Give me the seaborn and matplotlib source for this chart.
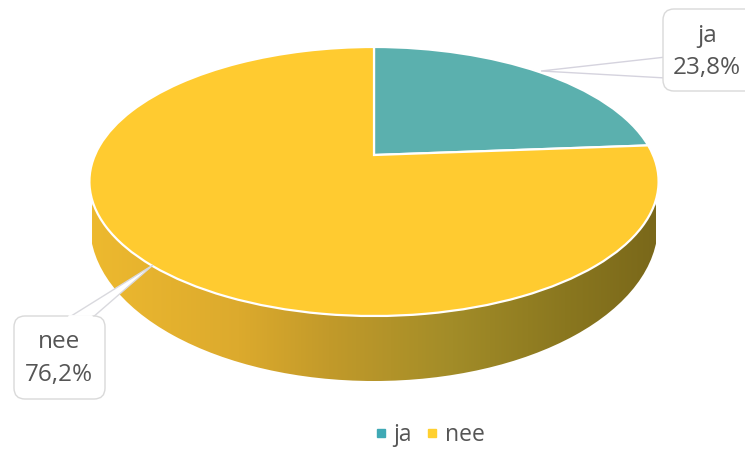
# 3D looking pie, ja / nee
import numpy as np
import matplotlib
matplotlib.use('Agg')
import matplotlib.pyplot as plt
import seaborn as sns
from matplotlib.colors import LinearSegmentedColormap
from matplotlib.lines import Line2D
from matplotlib.patches import Ellipse, FancyBboxPatch, Polygon
from matplotlib.transforms import Transform

labels = ['ja', 'nee']
shares = [23.8, 76.2]
share_text = ['23,8%', '76,2%']
colors = ['#5BB0AE', '#FFCB30']
legend_colors = ['#3FA9B5', '#FFD02F']

sns.set_theme(style='white')
plt.rcParams['font.family'] = ['Open Sans', 'DejaVu Sans']
text_color = '#555555'


# tilts the flat pie, the centre sits above the middle of the ellipse
class Tilt(Transform):
    input_dims = 2
    output_dims = 2

    def transform_non_affine(self, values):
        u, v = values[:, 0], values[:, 1]
        w = 1 + 0.197 * v
        return np.column_stack([374 + 279 * u / w, 155 - 129.3 * v / w])


fig = plt.figure(figsize=(7.45, 4.5), dpi=100)
ax = fig.add_axes([0, 0, 1, 1])

wedges, _ = ax.pie(shares, colors=colors, startangle=90, counterclock=False,
                   wedgeprops={'edgecolor': 'white', 'linewidth': 1.6})
for w in wedges:
    w.set_transform(Tilt() + ax.transData)
    w.set_zorder(3)

# side of the pie, dark towards the right
side_cmap = LinearSegmentedColormap.from_list('side', [
    (0.00, '#EDB92F'), (0.26, '#DCAA2D'), (0.42, '#C29A2A'),
    (0.64, '#A28C28'), (0.84, '#8A771F'), (1.00, '#7A681A')])
img = ax.imshow(np.linspace(0, 1, 256)[None, :], cmap=side_cmap, aspect='auto',
                extent=(92, 656, 385, 190), zorder=1)
rim = Ellipse((374, 225), 568, 312, transform=ax.transData, facecolor='none', edgecolor='none')
ax.add_patch(rim)
img.set_clip_path(rim)

ax.set_xlim(0, 745)
ax.set_ylim(450, 0)
ax.set_aspect('auto')
ax.axis('off')

# callouts
box_style = {'boxstyle': 'round,pad=0,rounding_size=11', 'facecolor': 'white',
             'edgecolor': '#D9D9D9', 'linewidth': 1.0, 'zorder': 5}
ax.add_patch(Polygon([(541, 71), (666, 57), (666, 78)], closed=True, facecolor='white',
                     edgecolor='#D5D3DE', linewidth=1.0, zorder=4))
ax.add_patch(Polygon([(153, 265), (68, 318), (92, 318)], closed=True, facecolor='white',
                     edgecolor='#D9D9DE', linewidth=1.0, zorder=4))
ax.add_patch(FancyBboxPatch((663, 9), 100, 82, **box_style))
ax.add_patch(FancyBboxPatch((14, 316), 91, 83, **box_style))
# hide the box border where the tail joins
ax.plot([665, 665], [58, 77], color='white', lw=2, zorder=6)
ax.plot([69, 91], [316, 316], color='white', lw=2, zorder=6)

ax.text(707, 36, labels[0], ha='center', va='center', fontsize=17.5, color=text_color, zorder=7)
ax.text(707, 68, share_text[0], ha='center', va='center', fontsize=17.5, color=text_color, zorder=7)
ax.text(59, 342, labels[1], ha='center', va='center', fontsize=17.5, color=text_color, zorder=7)
ax.text(59, 375, share_text[1], ha='center', va='center', fontsize=17.5, color=text_color, zorder=7)

handles = [Line2D([], [], linestyle='none', marker='s', markersize=6, color=c) for c in legend_colors]
ax.legend(handles, labels, ncol=2, frameon=False, loc='center', bbox_to_anchor=(430 / 745, 1 - 435 / 450),
          fontsize=16.5, labelcolor=text_color, handlelength=0.5, handletextpad=0.3,
          columnspacing=0.65, borderpad=0, borderaxespad=0)

fig.savefig('out.png', dpi=100, facecolor='white')
